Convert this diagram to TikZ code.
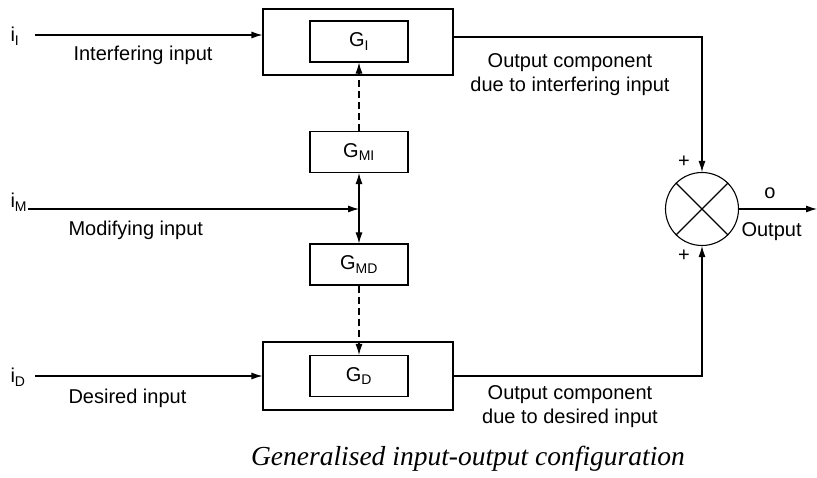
\documentclass[tikz,border=0pt]{standalone}
\usepackage{fontspec}
\setmainfont{Liberation Sans}
\newfontfamily\capfont{Liberation Serif}
\usetikzlibrary{arrows.meta}

\begin{document}
\begin{tikzpicture}[x=1pt, y=-1pt, line width=1.1pt,
		font=\fontsize{20}{24}\selectfont,
		tip/.style={-{Latex[length=11pt,width=7pt]}},
		outerbox/.style={draw, minimum width=190pt, minimum height=66pt, inner sep=0pt},
		gbox/.style={draw, minimum width=98pt, minimum height=41pt, inner sep=0pt},
		lbl/.style={inner sep=0pt}]
			\useasboundingbox (0,0) rectangle (817,478);

			\node[outerbox] (outerI) at (358,42) {};
			\node[gbox] (gI) at (359,41.5) {G\textsubscript{I}};
			\node[gbox] (gMI) at (359,152) {G\textsubscript{MI}};
			\node[gbox] (gMD) at (359,264.5) {G\textsubscript{MD}};
			\node[outerbox, minimum height=68pt] (outerD) at (358,376) {};
			\node[gbox] (gD) at (359,376) {G\textsubscript{D}};
			\node[draw, circle, minimum size=73pt, inner sep=0pt] (sum) at (702,209) {};
			\draw (sum.north west) -- (sum.south east);
			\draw (sum.north east) -- (sum.south west);

			\coordinate (iIin) at (35,35);
			\coordinate (mIn) at (28,209);
			\coordinate (iDin) at (35,376);
			\coordinate (junc) at (359,209);
			\coordinate (oEnd) at (817,209);
			\node[lbl, anchor=base west] (iI) at (10,42) {i\textsubscript{I}};
			\node[lbl, anchor=base west] (iM) at (10,208) {i\textsubscript{M}};
			\node[lbl, anchor=base west] (iD) at (10,383) {i\textsubscript{D}};

			\draw[black, tip] (iIin) to (iIin -| outerI.west);
			\draw[black, tip] (mIn) to (junc);
			\draw[black, tip] (iDin) to (iDin -| outerD.west);

			\draw[black, tip, dash pattern=on 7pt off 4pt] (gMI.north) to (gI.south);
			\draw[black, tip, dash pattern=on 7pt off 4pt] (gMD.south) to (gD.north);
			\draw[black, tip] (junc) to (gMI.south);
			\draw[black, tip] (junc) to (gMD.north);

			\draw[black, tip] ([yshift=5pt]outerI.east) -| (sum.north);
			\draw[black, tip] (outerD.east) -| (sum.south);
			\draw[black, tip] (sum.east) to (oEnd);

			\node[lbl, anchor=west] at (73,55) {Interfering input};
			\node[lbl, anchor=west] at (68,230) {Modifying input};
			\node[lbl, anchor=west] at (68,398) {Desired input};
			\node[lbl, align=center] at (570,75) {Output component\\due to interfering input};
			\node[lbl, align=center] at (570,407) {Output component\\due to desired input};
			\node[lbl] at (684,162) {+};
			\node[lbl] at (684,256) {+};
			\node[lbl] at (770,193) {o};
			\node[lbl, anchor=west] at (741,232) {Output};

			\node[lbl] at (468,459) {\capfont\itshape\fontsize{27.5}{32}\selectfont Generalised input-output configuration};
		\end{tikzpicture}
\end{document}
